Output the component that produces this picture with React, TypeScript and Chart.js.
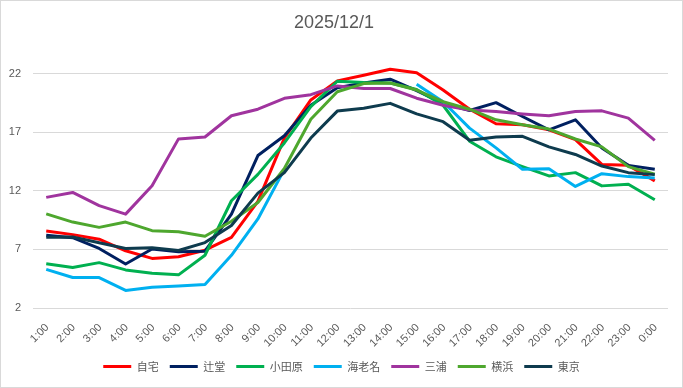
import React, { useEffect, useRef } from "react";
import { Chart, registerables } from "chart.js";

Chart.register(...registerables);

const hours = ["1:00","2:00","3:00","4:00","5:00","6:00","7:00","8:00","9:00","10:00","11:00","12:00","13:00","14:00","15:00","16:00","17:00","18:00","19:00","20:00","21:00","22:00","23:00","0:00"];

const jitaku = [8.57, 8.26, 7.87, 6.88, 6.23, 6.37, 6.93, 8.03, 11.1, 16.5, 19.75, 21.38, 21.86, 22.37, 22.08, 20.6, 18.96, 17.72, 17.63, 17.2, 16.37, 14.25, 14.17, 12.85];
const tsujido = [8.2, 8.0, 7.08, 5.76, 7.03, 6.8, 6.85, 10.0, 15.01, 16.7, 19.3, 20.8, 21.2, 21.52, 20.54, 19.46, 18.85, 19.52, 18.34, 17.2, 18.06, 15.66, 14.17, 13.83];
const odawara = [5.78, 5.45, 5.87, 5.25, 4.97, 4.83, 6.5, 11.15, 13.4, 16.08, 19.18, 21.35, 21.24, 21.2, 20.65, 19.3, 16.23, 14.9, 14.06, 13.27, 13.55, 12.42, 12.56, 11.24];
const ebina = [5.3, 4.6, 4.6, 3.5, 3.78, 3.87, 4.0, 6.5, 9.6, 13.83, null, null, null, null, 21.1, 19.6, 17.35, 15.66, 13.83, 13.89, 12.37, 13.46, 13.21, 13.1];
const miura = [11.44, 11.86, 10.74, 10.01, 12.43, 16.43, 16.59, 18.4, 18.96, 19.89, 20.2, 20.95, 20.73, 20.73, 19.9, 19.3, 18.9, 18.76, 18.56, 18.4, 18.76, 18.82, 18.2, 16.31];
const yokohama = [10.03, 9.33, 8.88, 9.33, 8.6, 8.51, 8.12, 9.4, 11.0, 13.9, 18.1, 20.45, 21.15, 21.2, 20.6, 19.6, 18.96, 18.06, 17.63, 17.27, 16.42, 15.75, 14.06, 13.41];
const tokyo = [8.04, 8.06, 7.56, 7.08, 7.14, 6.91, 7.58, 9.04, 11.8, 13.55, 16.5, 18.8, 19.04, 19.46, 18.56, 17.9, 16.31, 16.59, 16.65, 15.75, 15.1, 14.11, 13.55, 13.38];

const seriesNames = ["自宅", "辻堂", "小田原", "海老名", "三浦", "横浜", "東京"];
const seriesColors = ["#FF0000", "#002060", "#00B050", "#00B0F0", "#A0349E", "#4EA72E", "#0E3B4E"];
const yTicks = [2, 7, 12, 17, 22];
const titleText = "2025/12/1";

const borderPlugin = {
  id: "outerBorder",
  afterLayout(chart: any) {
    if (chart.legend) {
      chart.legend.left = 0;
      chart.legend.right = chart.width;
    }
  },
  afterDraw(chart: any) {
    const ctx = chart.ctx;
    ctx.save();
    ctx.strokeStyle = "#d9d9d9";
    ctx.lineWidth = 1;
    ctx.strokeRect(0.5, 0.5, chart.width - 1, chart.height - 1);
    ctx.restore();
  },
};

export default function App() {
  const ref = useRef<HTMLCanvasElement | null>(null);
  useEffect(() => {
    document.body.style.margin = "0";
    const all = [jitaku, tsujido, odawara, ebina, miura, yokohama, tokyo];
    const chart = new Chart(ref.current as HTMLCanvasElement, {
      type: "line",
      data: {
        labels: hours,
        datasets: all.map((d, i) => ({
          label: seriesNames[i],
          data: d,
          borderColor: seriesColors[i],
          backgroundColor: seriesColors[i],
          borderWidth: 3,
          pointRadius: 0,
          tension: 0,
          spanGaps: false,
          clip: false as any,
          borderJoinStyle: "round" as const,
          order: all.length - i,
        })),
      },
      options: {
        responsive: false,
        animation: false,
        layout: { padding: { left: 0, right: 15, top: 0, bottom: 6 } },
        plugins: {
          title: {
            display: true,
            text: titleText,
            color: "#595959",
            font: { family: "'Liberation Sans', Arial, sans-serif", size: 18, weight: "normal" },
            padding: { top: 12, bottom: 40 },
          },
          legend: {
            position: "bottom",
            labels: {
              color: "#595959",
              font: { family: "'Noto Sans CJK JP', 'Liberation Sans', sans-serif", size: 11 },
              boxWidth: 28,
              boxHeight: 3,
              padding: 11,
              sort: (a: any, b: any) => a.datasetIndex - b.datasetIndex,
              generateLabels: (c: any) => {
                const items = Chart.defaults.plugins.legend.labels.generateLabels(c);
                return items.map((it: any) => ({ ...it, lineWidth: 0, fillStyle: seriesColors[it.datasetIndex], strokeStyle: seriesColors[it.datasetIndex] }));
              },
            },
          },
          tooltip: { enabled: false },
        },
        scales: {
          x: {
            offset: true,
            grid: { display: false, offset: true },
            border: { display: false },
            ticks: {
              color: "#595959",
              font: { family: "'Liberation Sans', Arial, sans-serif", size: 11 },
              minRotation: 45,
              maxRotation: 45,
              autoSkip: false,
              padding: 5,
              labelOffset: 1,
            },
            afterFit: (s: any) => { s.height = 42; },
          },
          y: {
            min: 2,
            max: 22,
            grid: { color: "#d9d9d9", drawTicks: false, lineWidth: 1 },
            border: { display: false },
            afterBuildTicks: (s: any) => { s.ticks = yTicks.map((v) => ({ value: v })); },
            ticks: {
              color: "#595959",
              font: { family: "'Liberation Sans', Arial, sans-serif", size: 11 },
              padding: 12,
            },
            afterFit: (s: any) => { s.width = 33; },
          },
        },
      },
      plugins: [borderPlugin],
    });
    return () => chart.destroy();
  }, []);
  return (
    <div style={{ width: 683, height: 388 }}>
      <canvas ref={ref} width={683} height={388} style={{ display: "block" }} />
    </div>
  );
}
